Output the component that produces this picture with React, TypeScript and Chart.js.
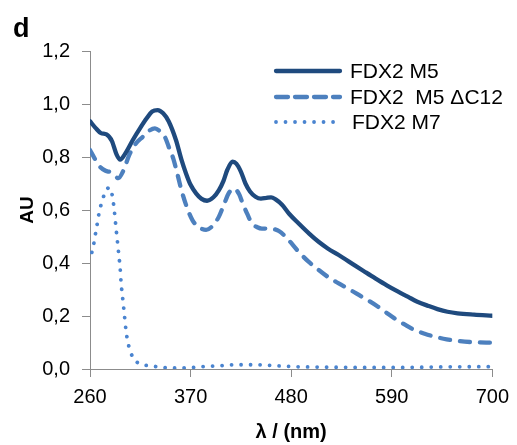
import React, { useEffect, useRef } from "react";
import { Chart, registerables } from "chart.js";

Chart.register(...registerables);

// ---- data ----
const seriesNames = ["FDX2 M5", "FDX2  M5 \u0394C12", "FDX2 M7"];

const m5Wavelengths = [260, 266, 272, 278, 284, 289, 293, 298, 307, 315, 322, 328, 334, 340, 346, 354, 360, 365, 370, 376, 382, 388, 395, 401, 406, 410, 416, 420, 425, 430, 435, 441, 447, 453, 458, 463, 470, 478, 488, 500, 510, 520, 532, 550, 560, 572, 585, 597, 608, 618, 630, 640, 651, 662, 680, 700];
const m5Values = [0.935, 0.91, 0.89, 0.885, 0.86, 0.81, 0.79, 0.81, 0.865, 0.91, 0.946, 0.972, 0.977, 0.965, 0.935, 0.864, 0.79, 0.738, 0.695, 0.663, 0.642, 0.635, 0.648, 0.675, 0.71, 0.75, 0.782, 0.775, 0.745, 0.7, 0.67, 0.65, 0.643, 0.646, 0.648, 0.64, 0.62, 0.585, 0.55, 0.51, 0.48, 0.455, 0.43, 0.39, 0.368, 0.342, 0.315, 0.292, 0.272, 0.254, 0.238, 0.226, 0.216, 0.21, 0.205, 0.201];

const c12Wavelengths = [260, 265, 271, 277, 283, 287, 291, 296, 303, 310, 318, 325, 331, 337, 342, 347, 351, 356, 360, 366, 372, 379, 387, 394, 401, 407, 412, 418, 423, 427, 432, 437, 443, 448, 455, 461, 467, 475, 488, 499, 510, 520, 532, 545, 557, 566, 575, 584, 593, 604, 615, 626, 637, 650, 662, 680, 700];
const c12Values = [0.826, 0.795, 0.763, 0.748, 0.742, 0.73, 0.72, 0.745, 0.808, 0.85, 0.877, 0.9, 0.908, 0.895, 0.875, 0.83, 0.795, 0.73, 0.675, 0.61, 0.562, 0.535, 0.525, 0.54, 0.575, 0.625, 0.665, 0.68, 0.66, 0.625, 0.585, 0.55, 0.535, 0.53, 0.53, 0.528, 0.52, 0.495, 0.443, 0.405, 0.374, 0.348, 0.323, 0.298, 0.273, 0.255, 0.235, 0.213, 0.191, 0.168, 0.147, 0.133, 0.122, 0.112, 0.106, 0.101, 0.099];

const m7Wavelengths = [262, 264, 266, 268, 270, 272.5, 275.5, 278, 281, 283, 284.7, 286.1, 287.2, 288.2, 289.3, 290.4, 291.5, 292.6, 293.4, 294, 295.1, 296.2, 297.3, 298.3, 299.4, 301, 303.5, 307.5, 315, 325, 336, 347, 360, 380, 400, 420, 440, 460, 481, 520, 560, 600, 650, 700];
const m7Values = [0.44, 0.47, 0.51, 0.55, 0.59, 0.625, 0.657, 0.675, 0.685, 0.675, 0.648, 0.613, 0.577, 0.541, 0.504, 0.468, 0.431, 0.395, 0.36, 0.323, 0.288, 0.252, 0.216, 0.18, 0.145, 0.108, 0.074, 0.04, 0.019, 0.012, 0.008, 0.004, 0.004, 0.008, 0.012, 0.016, 0.016, 0.013, 0.009, 0.007, 0.006, 0.006, 0.008, 0.009];

const xTickMin = 260;
const xTickMax = 700;
const xTickStep = 110;
const yTickMin = 0;
const yTickMax = 1.2;
const yTickStep = 0.2;

const FONT = "'Liberation Sans', Arial, sans-serif";
const AXIS_GRAY = "#8c8c8c";

const zip = (xs: number[], ys: number[]) => xs.map((x, i) => ({ x, y: ys[i] }));

const overlayPlugin = {
  id: "overlay",
  afterDraw(chart: any) {
    const ctx = chart.ctx as CanvasRenderingContext2D;
    ctx.save();
    // panel letter
    ctx.fillStyle = "#000";
    ctx.font = `bold 27px ${FONT}`;
    ctx.textAlign = "left";
    ctx.textBaseline = "alphabetic";
    ctx.fillText("d", 13, 37);

    // legend
    const rows = [71, 97, 122];
    chart.data.datasets.forEach((ds: any, i: number) => {
      const y = rows[i];
      ctx.beginPath();
      ctx.strokeStyle = ds.borderColor;
      ctx.lineWidth = ds.borderWidth;
      ctx.lineCap = ds.borderCapStyle || "butt";
      ctx.setLineDash(i === 1 ? [12, 7] : ds.borderDash || []);
      ctx.moveTo(276, y);
      ctx.lineTo(i === 2 ? 334 : 340, y);
      ctx.stroke();
      ctx.setLineDash([]);
      ctx.fillStyle = "#000";
      ctx.font = `21px ${FONT}`;
      ctx.textBaseline = "middle";
      ctx.fillText(ds.label, i === 2 ? 352 : 350, y + 1);
    });
    ctx.restore();
  },
};

export default function App() {
  const ref = useRef<HTMLCanvasElement | null>(null);

  useEffect(() => {
    document.body.style.margin = "0";
    const canvas = ref.current;
    if (!canvas) return;
    const chart = new Chart(canvas, {
      type: "line",
      data: {
        datasets: [
          {
            label: seriesNames[0],
            data: zip(m5Wavelengths, m5Values),
            borderColor: "#1f4a7e",
            borderWidth: 4.3,
            borderCapStyle: "round",
            borderJoinStyle: "round",
            pointRadius: 0,
            cubicInterpolationMode: "monotone",
            fill: false,
          },
          {
            label: seriesNames[1],
            data: zip(c12Wavelengths, c12Values),
            borderColor: "#4d80be",
            borderWidth: 4.3,
            borderDash: [10, 10],
            borderCapStyle: "round",
            pointRadius: 0,
            cubicInterpolationMode: "monotone",
            fill: false,
          },
          {
            label: seriesNames[2],
            data: zip(m7Wavelengths, m7Values),
            borderColor: "#4a84d0",
            borderWidth: 3.8,
            borderDash: [0.01, 9.5],
            borderCapStyle: "round",
            pointRadius: 0,
            cubicInterpolationMode: "monotone",
            fill: false,
          },
        ],
      },
      options: {
        responsive: false,
        animation: false,
        devicePixelRatio: 1,
        layout: { padding: { top: 51, right: 23, bottom: 0, left: 0 } },
        plugins: {
          legend: { display: false },
          tooltip: { enabled: false },
          title: { display: false },
        },
        scales: {
          x: {
            type: "linear",
            min: xTickMin,
            max: xTickMax,
            afterFit: (s: any) => {
              s.height = 76;
            },
            ticks: {
              stepSize: xTickStep,
              color: "#000",
              font: { family: FONT, size: 20 },
              padding: 8,
              maxRotation: 0,
              callback: (v: any) => String(Math.round(Number(v))),
            },
            grid: {
              display: true,
              drawOnChartArea: false,
              drawTicks: true,
              tickLength: 8,
              color: AXIS_GRAY,
            },
            border: { display: true, color: AXIS_GRAY, width: 1 },
            title: {
              display: true,
              text: "\u03bb / (nm)",
              color: "#000",
              font: { family: FONT, size: 20, weight: "bold" },
              padding: { top: 0, bottom: 1 },
            },
          },
          y: {
            type: "linear",
            min: yTickMin,
            max: yTickMax,
            afterFit: (s: any) => {
              s.width = 90;
            },
            ticks: {
              stepSize: yTickStep,
              color: "#000",
              font: { family: FONT, size: 20 },
              padding: 12,
              callback: (v: any) => Number(v).toFixed(1).replace(".", ","),
            },
            grid: {
              display: true,
              drawOnChartArea: false,
              drawTicks: true,
              tickLength: 8,
              color: AXIS_GRAY,
            },
            border: { display: true, color: AXIS_GRAY, width: 1 },
            title: {
              display: true,
              text: "AU",
              color: "#000",
              font: { family: FONT, size: 19, weight: "bold" },
              padding: { top: 16, bottom: 0 },
            },
          },
        },
      },
      plugins: [overlayPlugin],
    } as any);
    return () => chart.destroy();
  }, []);

  return <canvas ref={ref} width={517} height={445} style={{ display: "block" }} />;
}
